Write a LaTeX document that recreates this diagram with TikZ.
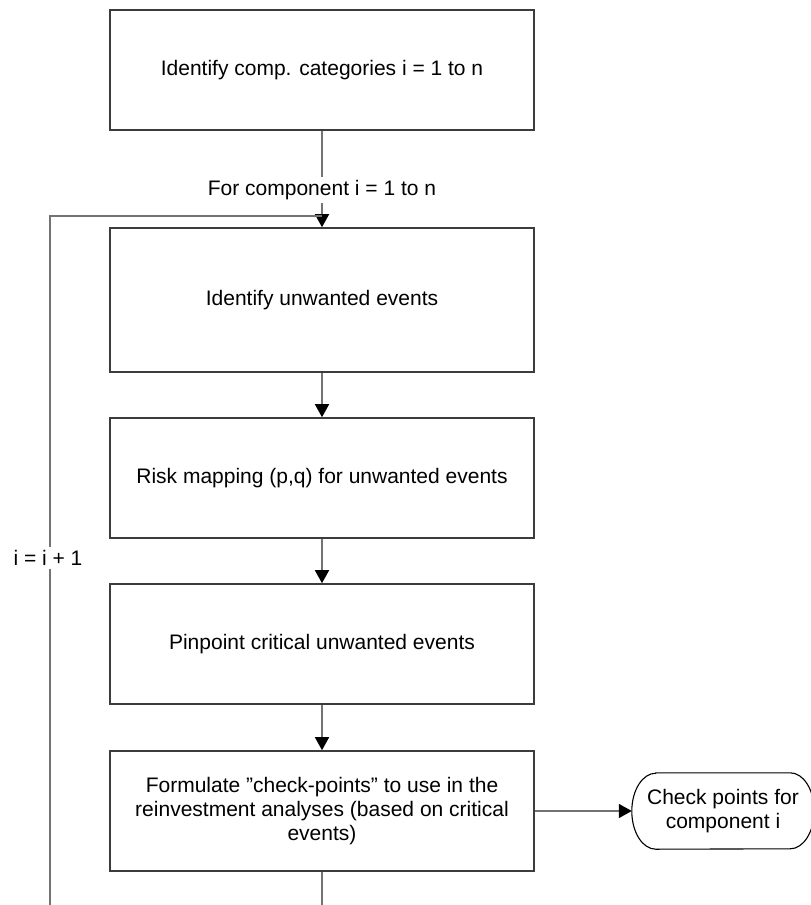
\documentclass[tikz,border=0pt]{standalone}
\usepackage{fontspec}
\setmainfont{Liberation Sans}
\usetikzlibrary{arrows.meta}
\definecolor{boxclr}{RGB}{60,60,60}
\definecolor{connclr}{RGB}{115,115,115}
\begin{document}
\begin{tikzpicture}[x=1pt,y=-1pt,
  procbox/.style={draw=boxclr, line width=1.6pt, minimum width=424pt, minimum height=120pt,
    align=center, font=\fontsize{21}{24}\selectfont, inner sep=0pt},
  termbox/.style={minimum width=182pt, minimum height=76pt, align=center,
    font=\fontsize{21}{24}\selectfont, inner sep=0pt},
  connline/.style={draw=connclr, line width=1.6pt},
  arrline/.style={connline, -{Triangle[length=13pt,width=14pt,fill=black,color=black]}},
  lbl/.style={fill=white, font=\fontsize{21}{24}\selectfont, inner sep=3pt},
]
\useasboundingbox (0,0) rectangle (811,905);

\node[procbox] (b1) at (322,70) {Identify comp. categories i = 1 to n};
\node[procbox, minimum height=144pt] (b2) at (322,300) {Identify unwanted events};
\node[procbox] (b3) at (322,478) {Risk mapping (p,q) for unwanted events};
\node[procbox] (b4) at (322,644) {Pinpoint critical unwanted events};
\node[procbox] (b5) at (322,811) {Formulate ”check-points” to use in the\\reinvestment analyses (based on critical\\events)};
\node[termbox] (term) at (723,811) {Check points for\\component i};
\draw[black, line width=1.1pt] ([xshift=24pt]term.north west) -- ([xshift=-24pt]term.north east)
  arc[start angle=90, end angle=-90, x radius=24pt, y radius=38pt]
  -- ([xshift=24pt]term.south west)
  arc[start angle=-90, end angle=-270, x radius=24pt, y radius=38pt] -- cycle;

\coordinate (loopturn) at (50,216);
\coordinate (loopend) at (50,905);
\coordinate (exitend) at (322,905);

\draw[arrline] (b1) -- (b2);
\draw[connline] (loopend) -- (loopturn) -- (b1.south |- loopturn);
\draw[arrline] (b2) -- (b3);
\draw[arrline] (b3) -- (b4);
\draw[arrline] (b4) -- (b5);
\draw[arrline] (b5) -- (term.west);
\draw[connline] (b5.south) -- (exitend);

\node[lbl] (lab1) at (322,190) {For component i = 1 to n};
\node[lbl] (lab2) at (48,558) {i = i + 1};
\end{tikzpicture}
\end{document}
